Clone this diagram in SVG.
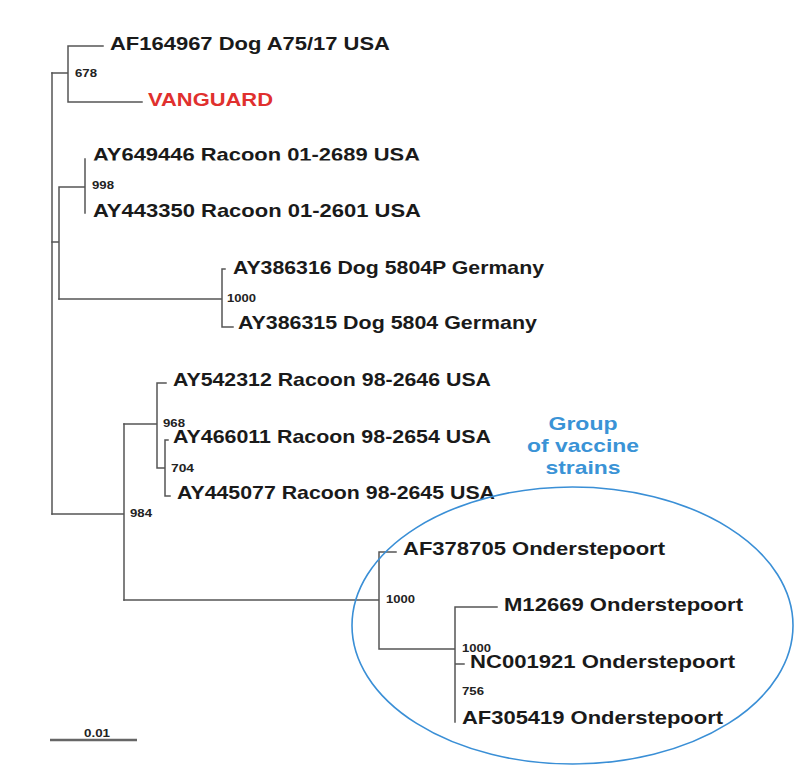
<svg xmlns="http://www.w3.org/2000/svg" width="794" height="776" viewBox="0 0 794 776">
<style>
.br{stroke:#555;stroke-width:1.5;fill:none;stroke-linecap:square}
.lb{font-family:"Liberation Sans",Arial,sans-serif;font-weight:bold;font-size:18.5px;fill:#1a1a1a}
.bs{font-family:"Liberation Sans",Arial,sans-serif;font-weight:bold;font-size:11px;fill:#222}
.grp{font-family:"Liberation Sans",Arial,sans-serif;font-weight:bold;font-size:18.5px;fill:#3a93d6;text-anchor:middle}
</style>
<defs>
<clipPath id="clipTop"><rect x="80" y="140" width="360" height="20.5"/></clipPath>
</defs>
<rect width="794" height="776" fill="#ffffff"/>
<g id="connectors">
<path class="br" d="M52,73 V514"/>
<path class="br" d="M52,73 H68 M68,46 V102 M68,46 H103 M68,102 H142"/>
<path class="br" d="M52,242 H59 M59,187 V299 M59,187 H85 M85,159 V213"/>
<path class="br" d="M59,299 H222 M222,269 V327 M222,269 H225 M222,327 H233"/>
<path class="br" d="M52,514 H124 M124,424 V600"/>
<path class="br" d="M124,424 H157 M157,383 V468 M157,383 H166 M157,468 H165 M165,440 V496 M165,440 H168 M165,496 H170"/>
<path class="br" d="M124,600 H379 M379,552 V649 M379,552 H396 M379,649 H455 M455,607 V722 M455,607 H497 M455,664 H464"/>
</g>
<g id="leaf-AF164967"><text class="lb" x="110" y="49.5" textLength="280" lengthAdjust="spacingAndGlyphs">AF164967 Dog A75/17 USA</text></g>
<g id="leaf-VANGUARD"><text class="lb" x="148" y="105.5" textLength="125" lengthAdjust="spacingAndGlyphs" style="fill:#e0302e">VANGUARD</text></g>
<g id="leaf-AY649446"><text class="lb" x="93" y="161" textLength="327" lengthAdjust="spacingAndGlyphs" clip-path="url(#clipTop)">AY649446 Racoon 01-2689 USA</text></g>
<g id="leaf-AY443350"><text class="lb" x="93" y="216.5" textLength="328" lengthAdjust="spacingAndGlyphs">AY443350 Racoon 01-2601 USA</text></g>
<g id="leaf-AY386316"><text class="lb" x="233" y="273.5" textLength="311" lengthAdjust="spacingAndGlyphs">AY386316 Dog 5804P Germany</text></g>
<g id="leaf-AY386315"><text class="lb" x="238" y="329" textLength="299" lengthAdjust="spacingAndGlyphs">AY386315 Dog 5804 Germany</text></g>
<g id="leaf-AY542312"><text class="lb" x="173" y="385.5" textLength="318" lengthAdjust="spacingAndGlyphs">AY542312 Racoon 98-2646 USA</text></g>
<g id="leaf-AY466011"><text class="lb" x="173" y="442.5" textLength="318" lengthAdjust="spacingAndGlyphs">AY466011 Racoon 98-2654 USA</text></g>
<g id="leaf-AY445077"><text class="lb" x="177" y="498.5" textLength="318" lengthAdjust="spacingAndGlyphs">AY445077 Racoon 98-2645 USA</text></g>
<g id="leaf-AF378705"><text class="lb" x="403" y="554.5" textLength="262" lengthAdjust="spacingAndGlyphs">AF378705 Onderstepoort</text></g>
<g id="leaf-M12669"><text class="lb" x="504" y="610.5" textLength="239" lengthAdjust="spacingAndGlyphs">M12669 Onderstepoort</text></g>
<g id="leaf-NC001921"><text class="lb" x="470" y="667.5" textLength="265" lengthAdjust="spacingAndGlyphs">NC001921 Onderstepoort</text></g>
<g id="leaf-AF305419"><text class="lb" x="462" y="723.5" textLength="261" lengthAdjust="spacingAndGlyphs">AF305419 Onderstepoort</text></g>
<g id="node-678"><text class="bs" x="75" y="77" textLength="22" lengthAdjust="spacingAndGlyphs">678</text></g>
<g id="node-998"><text class="bs" x="92" y="189" textLength="22" lengthAdjust="spacingAndGlyphs">998</text></g>
<g id="node-1000a"><text class="bs" x="227" y="302" textLength="29" lengthAdjust="spacingAndGlyphs">1000</text></g>
<g id="node-968"><text class="bs" x="163" y="427" textLength="22" lengthAdjust="spacingAndGlyphs">968</text></g>
<g id="node-704"><text class="bs" x="171" y="472" textLength="23" lengthAdjust="spacingAndGlyphs">704</text></g>
<g id="node-984"><text class="bs" x="130" y="517" textLength="22" lengthAdjust="spacingAndGlyphs">984</text></g>
<g id="node-1000b"><text class="bs" x="386" y="603" textLength="29" lengthAdjust="spacingAndGlyphs">1000</text></g>
<g id="node-1000c"><text class="bs" x="462" y="652" textLength="29" lengthAdjust="spacingAndGlyphs">1000</text></g>
<g id="node-756"><text class="bs" x="462" y="695" textLength="22" lengthAdjust="spacingAndGlyphs">756</text></g>
<g id="vaccine-group">
<ellipse cx="572.5" cy="625.5" rx="220.5" ry="138.5" fill="none" stroke="#3a8fd6" stroke-width="1.6"/>
<text class="grp" x="583" y="429.5" textLength="69" lengthAdjust="spacingAndGlyphs">Group</text>
<text class="grp" x="583" y="451.5" textLength="112" lengthAdjust="spacingAndGlyphs">of vaccine</text>
<text class="grp" x="583" y="474" textLength="75" lengthAdjust="spacingAndGlyphs">strains</text>
</g>
<g id="scale-bar">
<line x1="50" y1="740" x2="137" y2="740" stroke="#666" stroke-width="2.5"/>
<text class="bs" x="97" y="737" text-anchor="middle" textLength="26" lengthAdjust="spacingAndGlyphs">0.01</text>
</g>
</svg>
